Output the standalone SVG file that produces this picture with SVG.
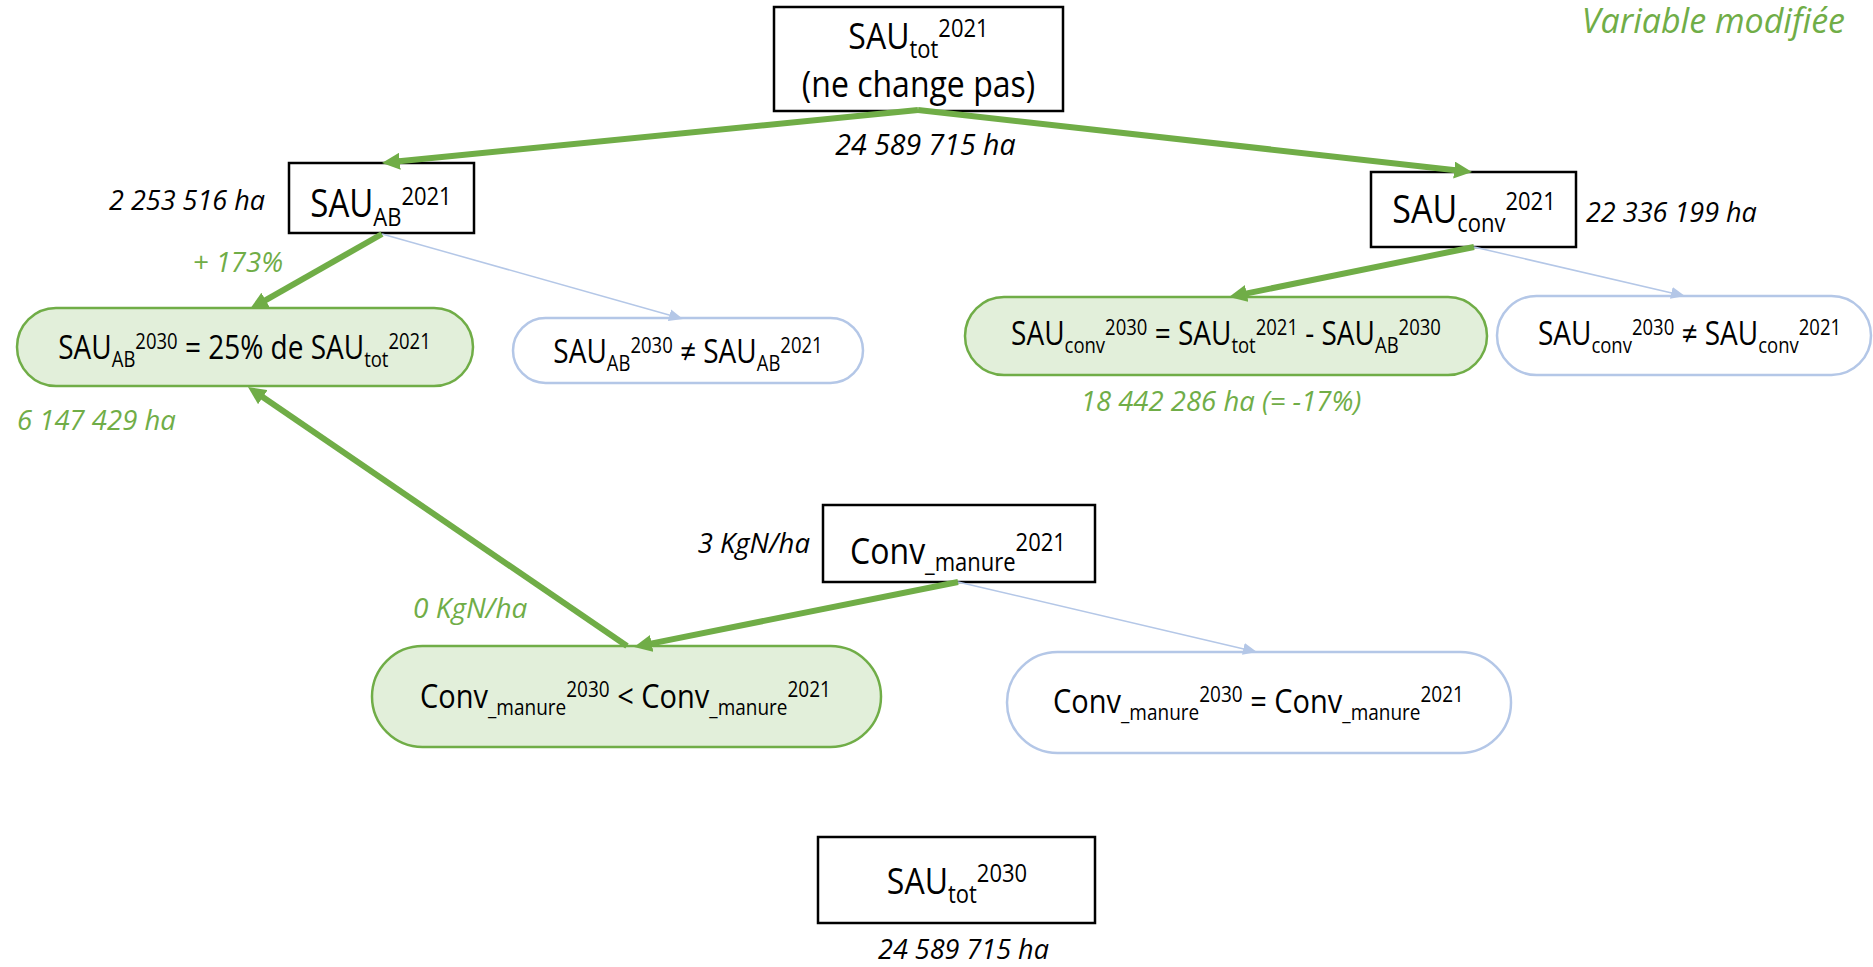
<svg xmlns="http://www.w3.org/2000/svg" width="1873" height="967" viewBox="0 0 1873 967">
<defs>
<style>
.box{fill:#fff;stroke:#000;stroke-width:2.5}
.gell{fill:#E2EFDA;stroke:#70AD47;stroke-width:2.5}
.bell{fill:#fff;stroke:#B4C7E7;stroke-width:2.5}
.t{font-family:"Open Sans","Liberation Sans",sans-serif;fill:#000;text-anchor:middle}
.lab{font-family:"Open Sans","Liberation Sans",sans-serif;font-style:italic;font-size:27px;fill:#000}
.glab{font-family:"Open Sans","Liberation Sans",sans-serif;font-style:italic;font-size:27.5px;fill:#70AD47}
.g{stroke:#70AD47;stroke-width:6;fill:none;marker-end:url(#ag)}
.b{stroke:#B4C7E7;stroke-width:1.5;fill:none;marker-end:url(#ab)}
</style>
<marker id="ag" markerUnits="userSpaceOnUse" viewBox="0 0 18 17" markerWidth="18" markerHeight="17" refX="6" refY="8.5" orient="auto"><path d="M0,0 L18,8.5 L0,17 z" fill="#70AD47"/></marker>
<marker id="ab" markerUnits="userSpaceOnUse" viewBox="0 0 14 12" markerWidth="14" markerHeight="12" refX="6" refY="6" orient="auto"><path d="M0,0 L14,6 L0,12 z" fill="#B4C7E7"/></marker>
</defs>
<rect width="1873" height="967" fill="#fff"/>

<text class="glab" x="1845" y="33" style="font-size:34px;text-anchor:end">Variable modifiée</text>

<g id="sau-tot-2021">
<rect class="box" x="774" y="7" width="289" height="104"/>
<text class="t" font-size="32" transform="translate(918.5,49) scale(1,1.15)">SAU<tspan font-size="22" dy="7.5">tot</tspan><tspan font-size="22" dy="-17.8">2021</tspan><tspan x="0" dy="52.0">(ne change pas)</tspan></text>
</g>
<text id="lab-tot" class="lab" x="925.5" y="155" text-anchor="middle" style="font-size:28.5px">24 589 715 ha</text>

<g id="sau-ab-2021">
<rect class="box" x="289" y="163" width="185" height="70"/>
<text class="t" font-size="33" transform="translate(381,217) scale(1,1.15)">SAU<tspan font-size="22" dy="7.8">AB</tspan><tspan font-size="22" dy="-18.3">2021</tspan></text>
</g>
<text class="lab" x="265" y="210" text-anchor="end">2 253 516 ha</text>
<text class="glab" x="283" y="272" text-anchor="end">+ 173%</text>

<g id="sau-conv-2021">
<rect class="box" x="1371" y="172" width="205" height="75"/>
<text class="t" font-size="34" transform="translate(1474,223) scale(1,1.15)">SAU<tspan font-size="22" dy="8">conv</tspan><tspan font-size="22" dy="-18.9">2021</tspan></text>
</g>
<text class="lab" x="1586" y="222">22 336 199 ha</text>

<g id="sau-ab-2030-eq">
<rect class="gell" x="17" y="308" width="456" height="78" rx="39"/>
<text class="t" font-size="28" transform="translate(244.5,359) scale(1,1.15)">SAU<tspan font-size="18.5" dy="6.6">AB</tspan><tspan font-size="18.5" dy="-15.5">2030</tspan><tspan dy="8.9"> = 25% de SAU</tspan><tspan font-size="18.5" dy="6.6">tot</tspan><tspan font-size="18.5" dy="-15.5">2021</tspan></text>
</g>
<text class="glab" x="17" y="430">6 147 429 ha</text>

<g id="sau-ab-2030-neq">
<rect class="bell" x="513" y="318" width="350" height="65" rx="32.5"/>
<text class="t" font-size="28" transform="translate(688,363) scale(1,1.15)">SAU<tspan font-size="18.5" dy="6.6">AB</tspan><tspan font-size="18.5" dy="-15.5">2030</tspan><tspan dy="8.9"> ≠ SAU</tspan><tspan font-size="18.5" dy="6.6">AB</tspan><tspan font-size="18.5" dy="-15.5">2021</tspan></text>
</g>

<g id="sau-conv-2030-eq">
<rect class="gell" x="965" y="297" width="522" height="78" rx="39"/>
<text class="t" font-size="28" transform="translate(1226,345) scale(1,1.15)">SAU<tspan font-size="18.5" dy="6.6">conv</tspan><tspan font-size="18.5" dy="-15.5">2030</tspan><tspan dy="8.9"> = SAU</tspan><tspan font-size="18.5" dy="6.6">tot</tspan><tspan font-size="18.5" dy="-15.5">2021</tspan><tspan dy="8.9"> - SAU</tspan><tspan font-size="18.5" dy="6.6">AB</tspan><tspan font-size="18.5" dy="-15.5">2030</tspan></text>
</g>
<text class="glab" x="1221" y="411" text-anchor="middle">18 442 286 ha (= -17%)</text>

<g id="sau-conv-2030-neq">
<rect class="bell" x="1497" y="296" width="374" height="79" rx="39.5"/>
<text class="t" font-size="28" transform="translate(1689.5,345) scale(1,1.15)">SAU<tspan font-size="18.5" dy="6.6">conv</tspan><tspan font-size="18.5" dy="-15.5">2030</tspan><tspan dy="8.9"> ≠ SAU</tspan><tspan font-size="18.5" dy="6.6">conv</tspan><tspan font-size="18.5" dy="-15.5">2021</tspan></text>
</g>

<g id="conv-manure-2021">
<rect class="box" x="823" y="505" width="272" height="77"/>
<text class="t" font-size="32" transform="translate(958,564) scale(1,1.15)">Conv<tspan font-size="22" dy="6">_manure</tspan><tspan font-size="22" dy="-17">2021</tspan></text>
</g>
<text class="lab" x="810" y="553" text-anchor="end" style="font-size:27.5px">3 KgN/ha</text>
<text class="glab" x="413" y="618" style="font-size:28px">0 KgN/ha</text>

<g id="conv-manure-2030-lt">
<rect class="gell" x="372" y="646" width="509" height="101" rx="50.5"/>
<text class="t" font-size="29" transform="translate(625.5,708) scale(1,1.15)">Conv<tspan font-size="19" dy="6">_manure</tspan><tspan font-size="19" dy="-15.5">2030</tspan><tspan dy="9.5"> &lt; Conv</tspan><tspan font-size="19" dy="6">_manure</tspan><tspan font-size="19" dy="-15.5">2021</tspan></text>
</g>

<g id="conv-manure-2030-eq">
<rect class="bell" x="1007" y="652" width="504" height="101" rx="50.5"/>
<text class="t" font-size="29" transform="translate(1258.5,713) scale(1,1.15)">Conv<tspan font-size="19" dy="6">_manure</tspan><tspan font-size="19" dy="-15.5">2030</tspan><tspan dy="9.5"> = Conv</tspan><tspan font-size="19" dy="6">_manure</tspan><tspan font-size="19" dy="-15.5">2021</tspan></text>
</g>

<g id="sau-tot-2030">
<rect class="box" x="818" y="837" width="277" height="86"/>
<text class="t" font-size="32" transform="translate(957,894) scale(1,1.15)">SAU<tspan font-size="22" dy="7.5">tot</tspan><tspan font-size="22" dy="-17.8">2030</tspan></text>
</g>
<text class="lab" x="963.5" y="959" text-anchor="middle">24 589 715 ha</text>

<g id="connectors">
<line class="g" x1="918" y1="110" x2="393.9" y2="161.8"/>
<line class="g" x1="918" y1="110" x2="1460.1" y2="170.7"/>
<line class="g" x1="382" y1="234" x2="260.4" y2="303.1"/>
<line class="b" x1="382" y1="234" x2="675.3" y2="316.8"/>
<line class="g" x1="1474" y1="247" x2="1240.8" y2="294.6"/>
<line class="b" x1="1474" y1="247" x2="1677.2" y2="294.2"/>
<line class="g" x1="958" y1="582" x2="645.8" y2="644.6"/>
<line class="b" x1="958" y1="582" x2="1249.2" y2="650.2"/>
<line class="g" x1="627" y1="646" x2="257.9" y2="393.8"/>
</g>
</svg>
